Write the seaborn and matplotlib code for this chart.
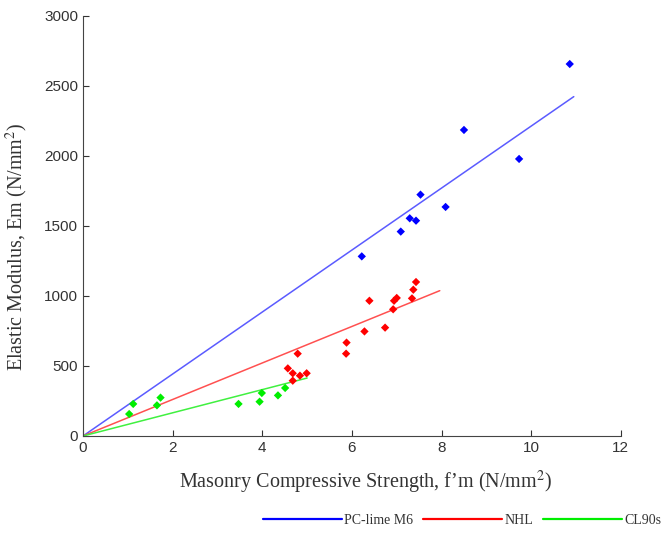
import matplotlib
matplotlib.use("Agg")
import matplotlib.pyplot as plt
import seaborn as sns
import pandas as pd
from matplotlib.lines import Line2D

# ---- data ----
pc_x = [6.22, 7.09, 7.29, 7.43, 7.53, 8.09, 8.50, 9.73, 10.86]
pc_y = [1283, 1460, 1555, 1538, 1724, 1636, 2186, 1979, 2657]

nhl_x = [4.68, 4.68, 4.57, 4.84, 4.99, 4.79, 5.87, 5.88, 6.28, 6.74, 6.39,
         6.92, 6.94, 7.00, 7.34, 7.37, 7.43]
nhl_y = [395, 448, 483, 431, 448, 588, 588, 667, 747, 774, 966,
         905, 966, 986, 983, 1045, 1100]

cl_x = [1.03, 1.12, 1.65, 1.73, 3.47, 3.94, 3.99, 4.35, 4.51]
cl_y = [157, 229, 219, 274, 229, 245, 307, 290, 343]

# trend lines (through origin)
pc_line_x, pc_line_y = [0, 10.95], [0, 2424]
nhl_line_x, nhl_line_y = [0, 7.96], [0, 1038]
cl_line_x, cl_line_y = [0, 5.0], [0, 414]

series = ["PC-lime M6", "NHL", "CL90s"]
colors = ["#0000ff", "#ff0000", "#00ee00"]
line_colors = ["#5b5bff", "#ff5050", "#40f040"]

x_ticks = [0, 2, 4, 6, 8, 10, 12]
y_ticks = [0, 500, 1000, 1500, 2000, 2500, 3000]

pts = pd.concat([
    pd.DataFrame({"x": pc_x, "y": pc_y, "s": series[0]}),
    pd.DataFrame({"x": nhl_x, "y": nhl_y, "s": series[1]}),
    pd.DataFrame({"x": cl_x, "y": cl_y, "s": series[2]}),
])
lines = pd.concat([
    pd.DataFrame({"x": pc_line_x, "y": pc_line_y, "s": series[0]}),
    pd.DataFrame({"x": nhl_line_x, "y": nhl_line_y, "s": series[1]}),
    pd.DataFrame({"x": cl_line_x, "y": cl_line_y, "s": series[2]}),
])

sns.set_style("ticks")
plt.rcParams["font.family"] = ["Liberation Sans", "DejaVu Sans"]
plt.rcParams["mathtext.fontset"] = "stix"

fig = plt.figure(figsize=(6.64, 5.33), dpi=100)
ax = fig.add_axes([0.125, 0.182, 0.81, 0.788])

sns.lineplot(data=lines, x="x", y="y", hue="s", hue_order=series,
             palette=dict(zip(series, line_colors)), linewidth=1.1,
             legend=False, ax=ax, sort=False, estimator=None)
sns.scatterplot(data=pts, x="x", y="y", hue="s", hue_order=series,
                palette=dict(zip(series, colors)), marker="D", s=18,
                edgecolor="none", legend=False, ax=ax, zorder=3)

ax.set_xlim(0, 12)
ax.set_ylim(0, 3000)
ax.set_xticks(x_ticks)
ax.set_yticks(y_ticks)
ax.tick_params(direction="in", length=4, labelsize=11, colors="#333333",
               width=0.8)
for sp in ["top", "right"]:
    ax.spines[sp].set_visible(False)
for sp in ["left", "bottom"]:
    ax.spines[sp].set_color("#444444")
    ax.spines[sp].set_linewidth(0.8)

serif = ["Liberation Serif", "DejaVu Serif"]
ax.set_xlabel("Masonry Compressive Strength, f\u2019m (N/mm$^{2}$)",
              family=serif, fontsize=14.5, color="#333333")
ax.set_ylabel("Elastic Modulus, Em (N/mm$^{2}$)",
              family=serif, fontsize=14.5, color="#333333")
ax.xaxis.set_label_coords(0.526, -0.078)
ax.yaxis.set_label_coords(-0.098, 0.45)

handles = [Line2D([], [], color=c, linewidth=1.6) for c in colors]
leg = fig.legend(handles, series, loc="center", bbox_to_anchor=(0.696, 0.024),
                 ncol=3, frameon=False, handlelength=5.7, handletextpad=0.15,
                 columnspacing=0.7, prop={"family": serif, "size": 10})
for t in leg.get_texts():
    t.set_color("#333333")

fig.savefig("out.png", dpi=100)
